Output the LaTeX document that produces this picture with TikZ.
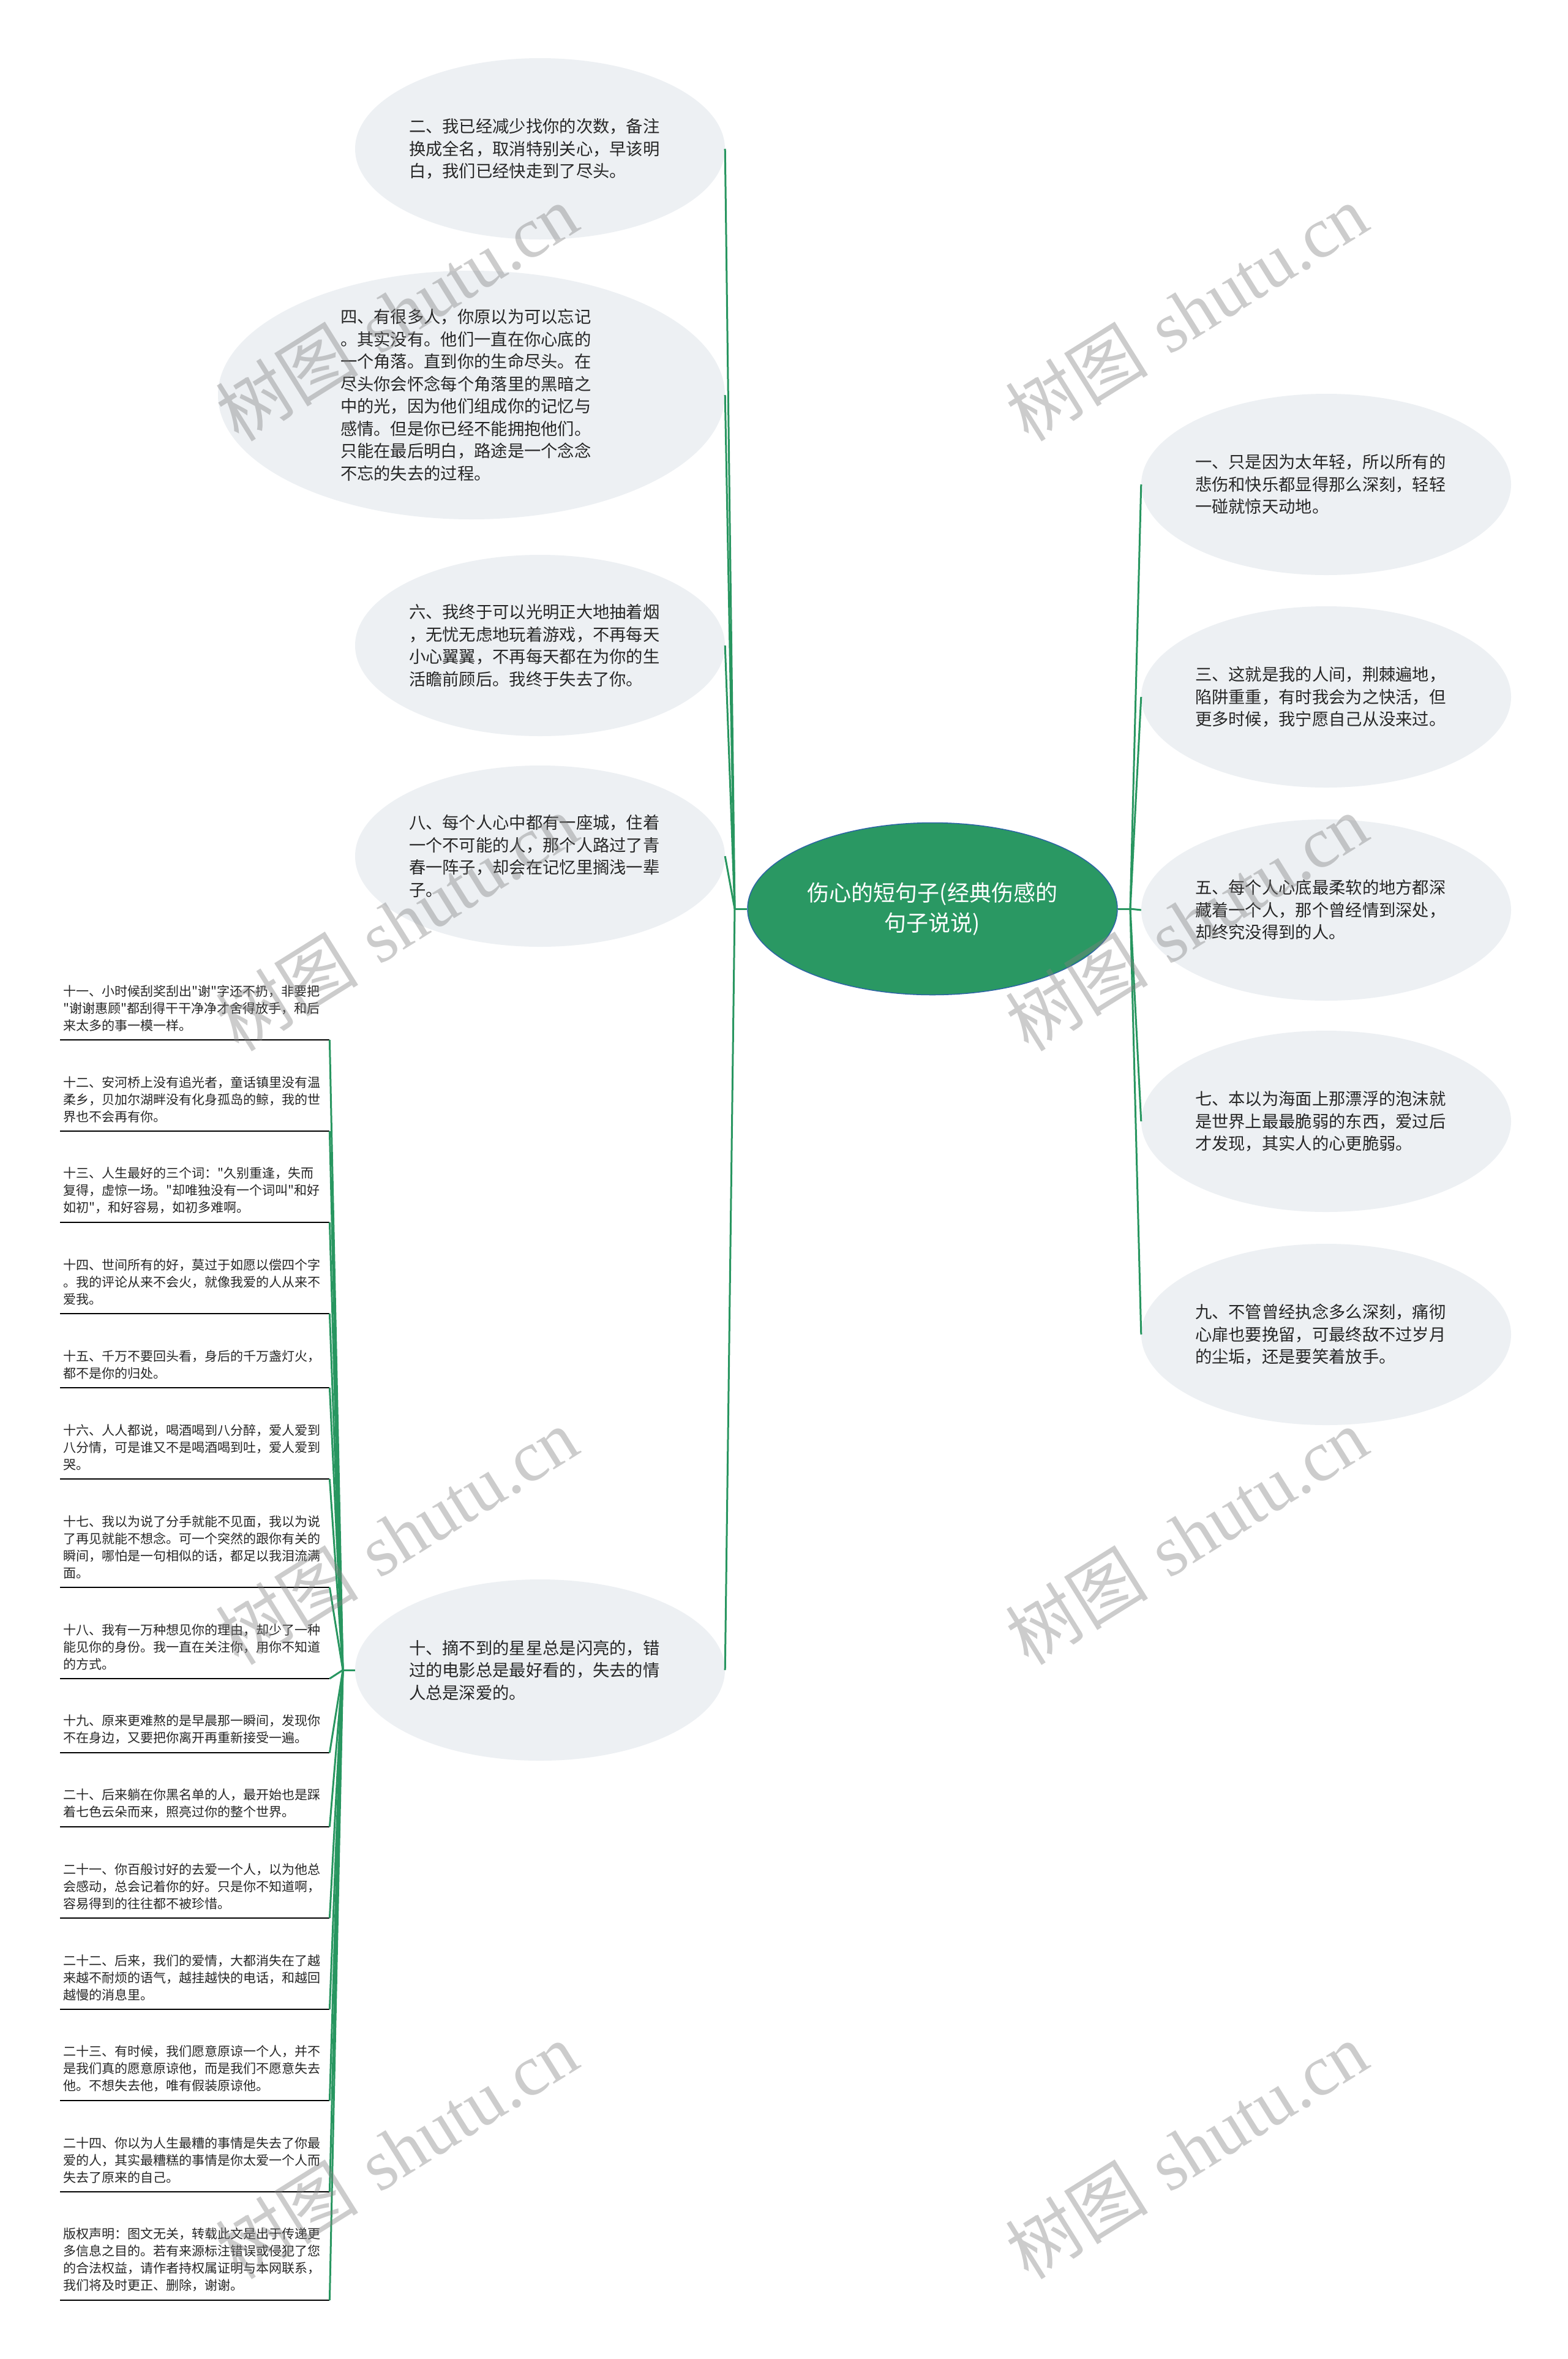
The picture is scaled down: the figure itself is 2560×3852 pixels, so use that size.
\documentclass[tikz,border=0pt]{standalone}
\usepackage{fontspec}
\usetikzlibrary{shapes.geometric}
\newfontfamily\cjk{Noto Sans CJK SC}
\newfontfamily\wmserif{Liberation Serif}
\definecolor{mmgreen}{RGB}{42,152,99}
\definecolor{linegreen}{RGB}{40,150,96}
\definecolor{bubblefill}{RGB}{237,240,243}
\definecolor{bodytext}{RGB}{38,38,38}
\definecolor{rootedge}{RGB}{44,100,165}
\definecolor{wmgray}{RGB}{128,128,128}
\begin{document}
\begin{tikzpicture}[x=1pt,y=-1pt,
  bub/.style={ellipse, fill=bubblefill, draw=none, inner ysep=0pt, inner xsep=-3pt, text width=428pt,
     text=bodytext, align=left,
     font=\cjk\fontsize{27.3pt}{36.5pt}\selectfont, minimum width=604pt, minimum height=296pt},
  bigbub/.style={bub, minimum width=828pt, minimum height=406pt},
  rootnode/.style={ellipse, fill=mmgreen, draw=rootedge, line width=1.5pt, inner sep=0pt, text=white,
     align=center, font=\cjk\fontsize{36pt}{49pt}\selectfont, minimum width=604pt, minimum height=281pt},
  listitem/.style={anchor=south west, inner xsep=5pt, inner ysep=14pt, text width=430pt, align=left,
     text=bodytext, font=\cjk\fontsize{21pt}{28pt}\selectfont},
  uline/.style={draw=black, line width=2.5pt},
  conn/.style={draw=linegreen, line width=3pt},
  wm/.style={text=wmgray, opacity=0.4, rotate=32, inner sep=0pt, font=\fontsize{117pt}{120pt}\selectfont}
]
\useasboundingbox (0,0) rectangle (2560,3852);
\fill[white] (0,0) rectangle (2560,3852);

% root
\node[rootnode] (root) at (1523,1484) {伤心的短句子(经典伤感的\\句子说说)};

% left bubbles
\node[bub] (e2) at (882,243) {\noindent 二、我已经减少找你的次数，备注\\换成全名，取消特别关心，早该明\\白，我们已经快走到了尽头。};
\node[bigbub] (e4) at (770,645) {\noindent 四、有很多人，你原以为可以忘记\\。其实没有。他们一直在你心底的\\一个角落。直到你的生命尽头。在\\尽头你会怀念每个角落里的黑暗之\\中的光，因为他们组成你的记忆与\\感情。但是你已经不能拥抱他们。\\只能在最后明白，路途是一个念念\\不忘的失去的过程。};
\node[bub] (e6) at (882,1054) {\noindent 六、我终于可以光明正大地抽着烟\\，无忧无虑地玩着游戏，不再每天\\小心翼翼，不再每天都在为你的生\\活瞻前顾后。我终于失去了你。};
\node[bub] (e8) at (882,1398) {\noindent 八、每个人心中都有一座城，住着\\一个不可能的人，那个人路过了青\\春一阵子，却会在记忆里搁浅一辈\\子。};
\node[bub] (e10) at (882,2727) {\noindent 十、摘不到的星星总是闪亮的，错\\过的电影总是最好看的，失去的情\\人总是深爱的。};

% right bubbles
\node[bub] (e1) at (2166,791) {\noindent 一、只是因为太年轻，所以所有的\\悲伤和快乐都显得那么深刻，轻轻\\一碰就惊天动地。};
\node[bub] (e3) at (2166,1138) {\noindent 三、这就是我的人间，荆棘遍地，\\陷阱重重，有时我会为之快活，但\\更多时候，我宁愿自己从没来过。};
\node[bub] (e5) at (2166,1486) {\noindent 五、每个人心底最柔软的地方都深\\藏着一个人，那个曾经情到深处，\\却终究没得到的人。};
\node[bub] (e7) at (2166,1831) {\noindent 七、本以为海面上那漂浮的泡沫就\\是世界上最最脆弱的东西，爱过后\\才发现，其实人的心更脆弱。};
\node[bub] (e9) at (2166,2179) {\noindent 九、不管曾经执念多么深刻，痛彻\\心扉也要挽留，可最终敌不过岁月\\的尘垢，还是要笑着放手。};

% list items
\node[listitem] (i11) at (98,1698) {\noindent 十一、小时候刮奖刮出"谢"字还不扔，非要把\\"谢谢惠顾"都刮得干干净净才舍得放手，和后\\来太多的事一模一样。};
\node[listitem] (i12) at (98,1847) {\noindent 十二、安河桥上没有追光者，童话镇里没有温\\柔乡，贝加尔湖畔没有化身孤岛的鲸，我的世\\界也不会再有你。};
\node[listitem] (i13) at (98,1996) {\noindent 十三、人生最好的三个词："久别重逢，失而\\复得，虚惊一场。"却唯独没有一个词叫"和好\\如初"，和好容易，如初多难啊。};
\node[listitem] (i14) at (98,2145) {\noindent 十四、世间所有的好，莫过于如愿以偿四个字\\。我的评论从来不会火，就像我爱的人从来不\\爱我。};
\node[listitem] (i15) at (98,2266) {\noindent 十五、千万不要回头看，身后的千万盏灯火，\\都不是你的归处。};
\node[listitem] (i16) at (98,2415) {\noindent 十六、人人都说，喝酒喝到八分醉，爱人爱到\\八分情，可是谁又不是喝酒喝到吐，爱人爱到\\哭。};
\node[listitem] (i17) at (98,2592) {\noindent 十七、我以为说了分手就能不见面，我以为说\\了再见就能不想念。可一个突然的跟你有关的\\瞬间，哪怕是一句相似的话，都足以我泪流满\\面。};
\node[listitem] (i18) at (98,2741) {\noindent 十八、我有一万种想见你的理由，却少了一种\\能见你的身份。我一直在关注你，用你不知道\\的方式。};
\node[listitem] (i19) at (98,2862) {\noindent 十九、原来更难熬的是早晨那一瞬间，发现你\\不在身边，又要把你离开再重新接受一遍。};
\node[listitem] (i20) at (98,2983) {\noindent 二十、后来躺在你黑名单的人，最开始也是踩\\着七色云朵而来，照亮过你的整个世界。};
\node[listitem] (i21) at (98,3132) {\noindent 二十一、你百般讨好的去爱一个人，以为他总\\会感动，总会记着你的好。只是你不知道啊，\\容易得到的往往都不被珍惜。};
\node[listitem] (i22) at (98,3281) {\noindent 二十二、后来，我们的爱情，大都消失在了越\\来越不耐烦的语气，越挂越快的电话，和越回\\越慢的消息里。};
\node[listitem] (i23) at (98,3430) {\noindent 二十三、有时候，我们愿意原谅一个人，并不\\是我们真的愿意原谅他，而是我们不愿意失去\\他。不想失去他，唯有假装原谅他。};
\node[listitem] (i24) at (98,3579) {\noindent 二十四、你以为人生最糟的事情是失去了你最\\爱的人，其实最糟糕的事情是你太爱一个人而\\失去了原来的自己。};
\node[listitem] (icr) at (98,3756) {\noindent 版权声明：图文无关，转载此文是出于传递更\\多信息之目的。若有来源标注错误或侵犯了您\\的合法权益，请作者持权属证明与本网联系，\\我们将及时更正、删除，谢谢。};

\foreach \n in {i11,i12,i13,i14,i15,i16,i17,i18,i19,i20,i21,i22,i23,i24,icr}
  \draw[uline] (\n.south west) -- (\n.south east);

% connectors
\coordinate (jl) at (1200,1484);
\coordinate (jr) at (1846,1484);
\coordinate (jten) at (560,2727);
\draw[conn] (root.west) -- (jl);
\draw[conn] (root.east) -- (jr);
\foreach \n in {e2,e4,e6,e8,e10}
  \draw[conn] (jl) -- (\n.east);
\foreach \n in {e1,e3,e5,e7,e9}
  \draw[conn] (jr) -- (\n.west);
\draw[conn] (e10.west) -- (jten);
\foreach \n in {i11,i12,i13,i14,i15,i16,i17,i18,i19,i20,i21,i22,i23,i24,icr}
  \draw[conn] (jten) -- (\n.south east);

% watermarks
\node[wm] (w1) at (648,510) {{\cjk 树图} {\wmserif shutu.cn}};
\node[wm] (w2) at (1938,510) {{\cjk 树图} {\wmserif shutu.cn}};
\node[wm] (w3) at (648,1506) {{\cjk 树图} {\wmserif shutu.cn}};
\node[wm] (w4) at (1938,1506) {{\cjk 树图} {\wmserif shutu.cn}};
\node[wm] (w5) at (648,2508) {{\cjk 树图} {\wmserif shutu.cn}};
\node[wm] (w6) at (1938,2508) {{\cjk 树图} {\wmserif shutu.cn}};
\node[wm] (w7) at (648,3511) {{\cjk 树图} {\wmserif shutu.cn}};
\node[wm] (w8) at (1938,3511) {{\cjk 树图} {\wmserif shutu.cn}};
\end{tikzpicture}
\end{document}
